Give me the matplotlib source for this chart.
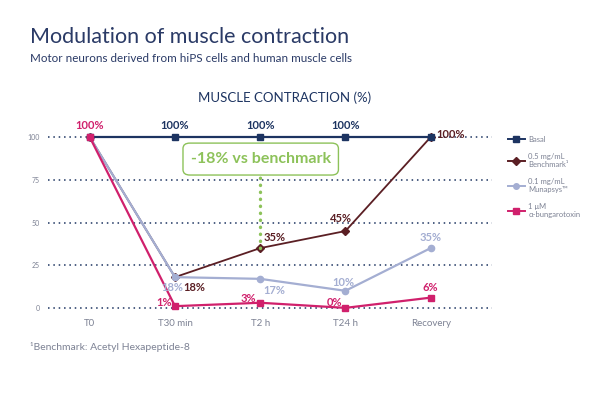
import matplotlib.pyplot as plt
from matplotlib.lines import Line2D
from matplotlib.patches import FancyBboxPatch

plt.rcParams['font.family'] = ['Lato', 'DejaVu Sans']

timepoints = ["T0", "T30 min", "T2 h", "T24 h", "Recovery"]
basal = [100, 100, 100, 100, 100]
benchmark = [100, 18, 35, 45, 100]
munapsys = [100, 18, 17, 10, 35]
bungarotoxin = [100, 1, 3, 0, 6]
y_ticks = [0, 25, 50, 75, 100]

NAVY = "#1d3461"
BROWN = "#5b1f24"
LIGHT = "#a4aed2"
PINK = "#d0206c"
GREEN = "#8dc25a"
GRAY = "#7d8294"

fig = plt.figure(figsize=(6.0, 3.95), dpi=100)
W, H = 600, 395


def px(x0, y0, x1, y1):
    return [x0 / W, 1 - y1 / H, (x1 - x0) / W, (y1 - y0) / H]


ax = fig.add_axes(px(48, 132, 492, 313))
x = list(range(len(timepoints)))
ax.set_xlim(-0.49, 4.72)
ax.set_ylim(-3, 103)

for yv in y_ticks:
    ax.axhline(yv, color=NAVY, lw=1.1, ls=(0, (1, 2.5)), zorder=1)

ax.plot(x, benchmark, color=BROWN, lw=1.3, marker="D", ms=4.5, zorder=3)
ax.plot(x, munapsys, color=LIGHT, lw=1.6, marker="o", ms=4.5, zorder=4)
ax.plot(x, basal, color=NAVY, lw=1.6, marker="s", ms=5, zorder=5)
ax.plot(x, bungarotoxin, color=PINK, lw=1.6, marker="s", ms=5, zorder=6)

# green annotation
ax.plot([2, 2], [benchmark[2], 77.8], color=GREEN, lw=2.4, ls=(0, (0.1, 2.0)),
        dash_capstyle="round", zorder=7)
box = FancyBboxPatch((1.094, 77.8), 1.824, 18.7, boxstyle="round,pad=0,rounding_size=0.08",
                     fc="white", ec=GREEN, lw=1.0, zorder=8, mutation_aspect=40)
ax.add_patch(box)
ax.text(2.006, 87.2, "-18% vs benchmark", color=GREEN, fontsize=11.5, ha="center", va="center",
        fontweight="bold", zorder=9)

kw = dict(fontsize=8, fontweight="bold", zorder=10, va="center")
ax.text(0, 107, "100%", color=PINK, ha="center", **kw)
for i in (1, 2, 3):
    ax.text(i, 107, "100%", color=NAVY, ha="center", **kw)
ax.text(4.07, 101.5, "100%", color=BROWN, ha="left", **kw)
ax.text(2.95, 52.6, "45%", color=BROWN, ha="center", **kw)
ax.text(2.04, 41, "35%", color=BROWN, ha="left", **kw)
ax.text(1.1, 11.7, "18%", color=BROWN, ha="left", **kw)
ax.text(1.1, 11.7, "18%", color=LIGHT, ha="right", **kw)
ax.text(2.04, 10, "17%", color=LIGHT, ha="left", **kw)
ax.text(2.98, 14.6, "10%", color=LIGHT, ha="center", **kw)
ax.text(4.0, 41.5, "35%", color=LIGHT, ha="center", **kw)
ax.text(0.965, 3, "1%", color=PINK, ha="right", **kw)
ax.text(1.865, 5.3, "3%", color=PINK, ha="center", **kw)
ax.text(2.87, 3, "0%", color=PINK, ha="center", **kw)
ax.text(4.0, 11.7, "6%", color=PINK, ha="center", **kw)

ax.set_xticks(x)
ax.set_xticklabels(timepoints, fontsize=7, color=GRAY)
ax.set_yticks(y_ticks)
ax.set_yticklabels([str(v) for v in y_ticks], fontsize=5, color=GRAY)
ax.tick_params(length=0, axis="y", pad=6)
ax.tick_params(length=0, axis="x", pad=4)
for s in ax.spines.values():
    s.set_visible(False)

handles = [
    Line2D([], [], color=NAVY, lw=1.4, marker="s", ms=4.5),
    Line2D([], [], color=BROWN, lw=1.4, marker="D", ms=4),
    Line2D([], [], color=LIGHT, lw=1.4, marker="o", ms=4),
    Line2D([], [], color=PINK, lw=1.4, marker="s", ms=4.5),
]
labels = ["Basal", "0.5 mg/mL\nBenchmark¹", "0.1 mg/mL\nMunapsys™", "1 μM\nα-bungarotoxin"]
leg = fig.legend(handles, labels, loc="upper left", bbox_to_anchor=(501 / W, 1 - 129 / H),
                 frameon=False, fontsize=5.5, handlelength=2.2, handletextpad=0.5,
                 labelspacing=1.3)
for t in leg.get_texts():
    t.set_color(GRAY)

fig.text(30 / W, 1 - 37 / H, "Modulation of muscle contraction", fontsize=15.5, color="#2a3a66",
         va="center", ha="left")
fig.text(30 / W, 1 - 58 / H, "Motor neurons derived from hiPS cells and human muscle cells",
         fontsize=8.4, color="#2a3a66", va="center", ha="left")
fig.text(285 / W, 1 - 98 / H, "MUSCLE CONTRACTION (%)", fontsize=9.5, color=NAVY,
         va="center", ha="center")
fig.text(30 / W, 1 - 347 / H, "¹Benchmark: Acetyl Hexapeptide-8", fontsize=7.5, color=GRAY,
         va="center", ha="left")

fig.savefig("out.png", dpi=100)
